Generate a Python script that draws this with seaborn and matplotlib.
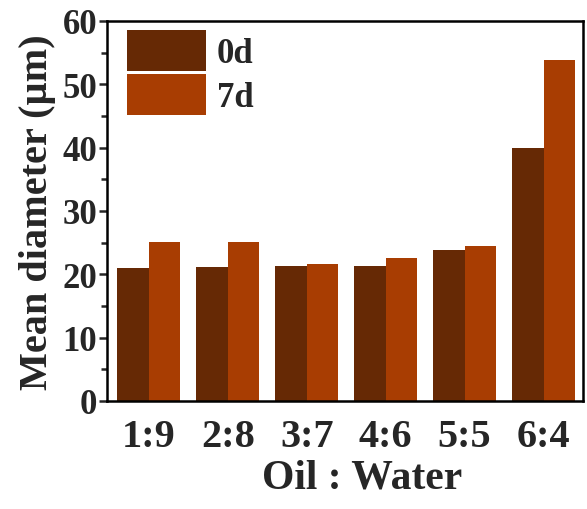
import matplotlib
matplotlib.use("Agg")
import matplotlib.pyplot as plt
import seaborn as sns
import pandas as pd
from matplotlib.ticker import MultipleLocator

ratios = ["1:9", "2:8", "3:7", "4:6", "5:5", "6:4"]
day0 = [21.0, 21.1, 21.3, 21.3, 23.8, 40.0]
day7 = [25.1, 25.1, 21.7, 22.6, 24.4, 53.9]
series = ["0d", "7d"]
colors = ["#662905", "#A83D02"]

df = pd.DataFrame({
    "ratio": ratios * 2,
    "value": day0 + day7,
    "day": [series[0]] * len(ratios) + [series[1]] * len(ratios),
})

sns.set_style("ticks")
plt.rcParams["font.family"] = ["Liberation Serif", "DejaVu Serif"]
plt.rcParams["font.weight"] = "bold"

fig = plt.figure(figsize=(5.87, 5.10), dpi=100)
ax = fig.add_axes([107/587, 1-402/510, (583-107)/587, (402-22)/510])

sns.barplot(data=df, x="ratio", y="value", hue="day", palette=colors,
            width=0.8, gap=0, saturation=1, ax=ax, edgecolor="none", linewidth=0)

ax.set_ylim(0, 60)
ax.set_xlim(-0.53, 5.5)
ax.yaxis.set_major_locator(MultipleLocator(10))
ax.yaxis.set_minor_locator(MultipleLocator(5))
for s in ax.spines.values():
    s.set_linewidth(1.8)
    s.set_color("black")
    s.set_visible(True)
ax.tick_params(axis="y", which="major", length=6, width=1.8, labelsize=25, pad=1)
ax.tick_params(axis="y", which="minor", length=4, width=1.8)
ax.tick_params(axis="x", which="major", length=0, labelsize=29, pad=12)
for lab in ax.get_xticklabels() + ax.get_yticklabels():
    lab.set_fontweight("bold")

ax.set_xlabel("Oil : Water", fontsize=30, fontweight="bold", labelpad=3)
ax.xaxis.label.set_x(0.535)
ax.set_ylabel("Mean diameter (µm)", fontsize=29, fontweight="bold", labelpad=5)

leg = ax.legend(loc="upper left", frameon=False, fontsize=25, handlelength=2.3,
                handleheight=1.45, handletextpad=0.3, labelspacing=0.08,
                borderaxespad=0, bbox_to_anchor=(0.012, 1.013))
for t in leg.get_texts():
    t.set_fontweight("bold")

fig.savefig("out.png", dpi=100)
